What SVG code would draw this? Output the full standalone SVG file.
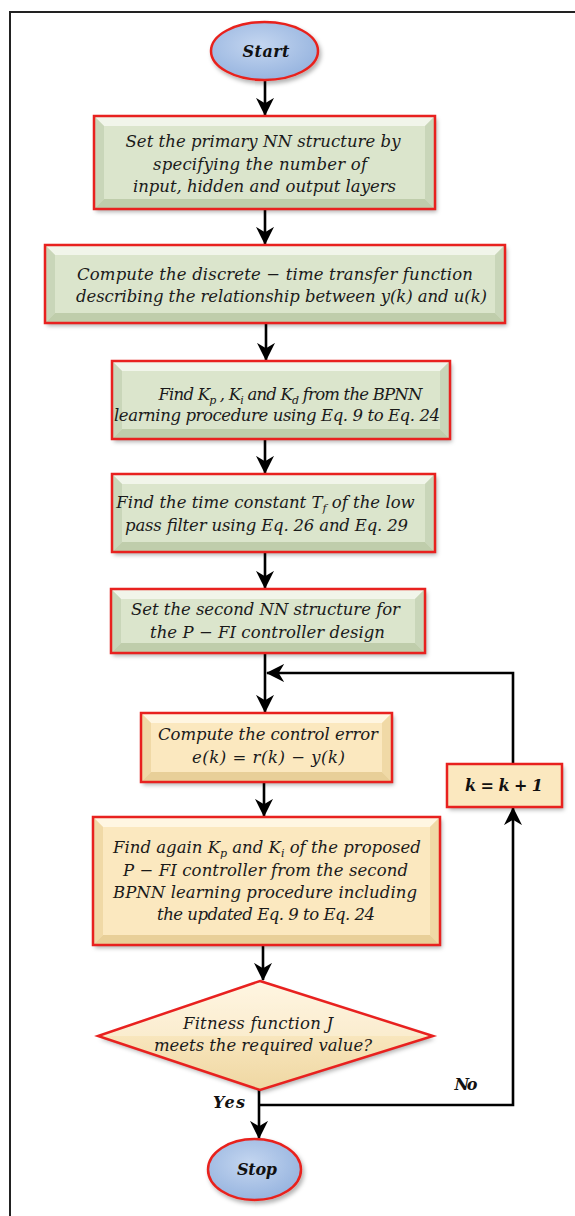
<svg xmlns="http://www.w3.org/2000/svg" width="575" height="1216" viewBox="0 0 575 1216">
  <defs>
    <style>
      .frame { fill: none; stroke: #222; stroke-width: 2; }
      .edge { fill: none; stroke: #000; stroke-width: 2.6; }
      .border { fill: none; stroke: #e8211f; stroke-width: 2.5; }
      .g-face { fill: #dbe5cc; }
      .g-top { fill: #f1f5ea; }
      .g-side { fill: #c9d6b9; }
      .g-bot { fill: #bfcdab; }
      .c-face { fill: #fbe8bf; }
      .c-top { fill: #fff6e2; }
      .c-side { fill: #f0d9a6; }
      .c-bot { fill: #e8cf98; }
      .txt { font-family: "DejaVu Serif", "Liberation Serif", serif; font-style: italic; font-size: 16.5px; fill: #1a1a1a; }
      .btxt { font-family: "DejaVu Serif", "Liberation Serif", serif; font-style: italic; font-weight: bold; font-size: 16px; fill: #111; }
      .sub { font-size: 11px; }
    </style>
    <filter id="shadow" x="-10%" y="-10%" width="125%" height="130%">
      <feDropShadow dx="2" dy="3" stdDeviation="2" flood-color="#000" flood-opacity="0.3"/>
    </filter>
    <radialGradient id="oval" cx="45%" cy="40%" r="65%">
      <stop offset="0" stop-color="#c4d6f0"/>
      <stop offset="1" stop-color="#94b2de"/>
    </radialGradient>
    <linearGradient id="dia" x1="0" y1="0" x2="0" y2="1">
      <stop offset="0" stop-color="#fff4da"/>
      <stop offset="0.5" stop-color="#f8e6bd"/>
      <stop offset="1" stop-color="#efd7a2"/>
    </linearGradient>
    <marker id="arrow" viewBox="0 0 20 20" refX="19" refY="10" markerWidth="18" markerHeight="20" markerUnits="userSpaceOnUse" orient="auto">
      <path d="M0,0 L20,10 L0,20 L6,10 z" fill="#000"/>
    </marker>
  </defs>

  <rect width="575" height="1216" fill="#fff"/>
  <path class="frame" d="M10,1216 V12 H575"/>

  <!-- connectors -->
  <g id="connectors">
    <path class="edge" d="M265,80 V115" marker-end="url(#arrow)"/>
    <path class="edge" d="M265,209 V244" marker-end="url(#arrow)"/>
    <path class="edge" d="M266,323 V360" marker-end="url(#arrow)"/>
    <path class="edge" d="M265,439 V473" marker-end="url(#arrow)"/>
    <path class="edge" d="M265,552 V588" marker-end="url(#arrow)"/>
    <path class="edge" d="M265,653 V712" marker-end="url(#arrow)"/>
    <path class="edge" d="M513,764 V673 H267" marker-end="url(#arrow)"/>
    <path class="edge" d="M264,782 V816" marker-end="url(#arrow)"/>
    <path class="edge" d="M263,945 V980" marker-end="url(#arrow)"/>
    <path class="edge" d="M259,1090 V1138" marker-end="url(#arrow)"/>
    <path class="edge" d="M259,1105 H513 V808" marker-end="url(#arrow)"/>
    <text class="btxt" x="229" y="1108" text-anchor="middle" textLength="32">Yes</text>
    <text class="btxt" x="466" y="1090" text-anchor="middle" textLength="23">No</text>
  </g>

  <!-- start -->
  <g id="start">
    <ellipse cx="264.5" cy="51" rx="53.5" ry="29" fill="url(#oval)" stroke="#e8211f" stroke-width="2.5" filter="url(#shadow)"/>
    <text class="btxt" x="266" y="57" text-anchor="middle" textLength="47" font-size="17">Start</text>
  </g>

  <!-- step 1 -->
  <g id="n1">
    <rect x="94" y="116" width="341" height="93" class="g-face" filter="url(#shadow)"/>
    <polygon class="g-top" points="94,116 435,116 425,126 104,126"/>
    <polygon class="g-side" points="94,116 104,126 104,199 94,209"/>
    <polygon class="g-side" points="435,116 425,126 425,199 435,209"/>
    <polygon class="g-bot" points="94,209 104,199 425,199 435,209"/>
    <rect x="94" y="116" width="341" height="93" class="border"/>
    <text class="txt" x="263" y="147" text-anchor="middle" textLength="275">Set the primary NN structure by</text>
    <text class="txt" x="260" y="170" text-anchor="middle" textLength="214">specifying the number of</text>
    <text class="txt" x="264.5" y="192" text-anchor="middle" textLength="263">input, hidden and output layers</text>
  </g>

  <!-- step 2 -->
  <g id="n2">
    <rect x="45" y="245" width="460" height="78" class="g-face" filter="url(#shadow)"/>
    <polygon class="g-top" points="45,245 505,245 495,255 55,255"/>
    <polygon class="g-side" points="45,245 55,255 55,313 45,323"/>
    <polygon class="g-side" points="505,245 495,255 495,313 505,323"/>
    <polygon class="g-bot" points="45,323 55,313 495,313 505,323"/>
    <rect x="45" y="245" width="460" height="78" class="border"/>
    <text class="txt" x="275" y="280" text-anchor="middle" textLength="396">Compute the discrete − time transfer function</text>
    <text class="txt" x="281.5" y="302" text-anchor="middle" textLength="411">describing the relationship between y(k) and u(k)</text>
  </g>

  <!-- step 3 -->
  <g id="n3">
    <rect x="112" y="361" width="338" height="78" class="g-face" filter="url(#shadow)"/>
    <polygon class="g-top" points="112,361 450,361 440,371 122,371"/>
    <polygon class="g-side" points="112,361 122,371 122,429 112,439"/>
    <polygon class="g-side" points="450,361 440,371 440,429 450,439"/>
    <polygon class="g-bot" points="112,439 122,429 440,429 450,439"/>
    <rect x="112" y="361" width="338" height="78" class="border"/>
    <text class="txt" x="290" y="400" text-anchor="middle" letter-spacing="-0.8">Find K<tspan class="sub" dy="4">p</tspan><tspan dy="-4"> , K</tspan><tspan class="sub" dy="4">i</tspan><tspan dy="-4"> and K</tspan><tspan class="sub" dy="4">d</tspan><tspan dy="-4"> from the BPNN</tspan></text>
    <text class="txt" x="277" y="421" text-anchor="middle" textLength="326">learning procedure using Eq. 9 to Eq. 24</text>
  </g>

  <!-- step 4 -->
  <g id="n4">
    <rect x="112" y="474" width="323" height="78" class="g-face" filter="url(#shadow)"/>
    <polygon class="g-top" points="112,474 435,474 425,484 122,484"/>
    <polygon class="g-side" points="112,474 122,484 122,542 112,552"/>
    <polygon class="g-side" points="435,474 425,484 425,542 435,552"/>
    <polygon class="g-bot" points="112,552 122,542 425,542 435,552"/>
    <rect x="112" y="474" width="323" height="78" class="border"/>
    <text class="txt" x="265.5" y="508" text-anchor="middle">Find the time constant T<tspan class="sub" dy="4">f</tspan><tspan dy="-4"> of the low</tspan></text>
    <text class="txt" x="266.5" y="531" text-anchor="middle" textLength="283">pass filter using Eq. 26 and Eq. 29</text>
  </g>

  <!-- step 5 -->
  <g id="n5">
    <rect x="111" y="589" width="314" height="64" class="g-face" filter="url(#shadow)"/>
    <polygon class="g-top" points="111,589 425,589 415,599 121,599"/>
    <polygon class="g-side" points="111,589 121,599 121,643 111,653"/>
    <polygon class="g-side" points="425,589 415,599 415,643 425,653"/>
    <polygon class="g-bot" points="111,653 121,643 415,643 425,653"/>
    <rect x="111" y="589" width="314" height="64" class="border"/>
    <text class="txt" x="265.5" y="615" text-anchor="middle" textLength="269">Set the second NN structure for</text>
    <text class="txt" x="267.5" y="638" text-anchor="middle" textLength="235">the P − FI controller design</text>
  </g>

  <!-- step 6 -->
  <g id="n6">
    <rect x="141" y="713" width="251" height="69" class="c-face" filter="url(#shadow)"/>
    <polygon class="c-top" points="141,713 392,713 382,723 151,723"/>
    <polygon class="c-side" points="141,713 151,723 151,772 141,782"/>
    <polygon class="c-side" points="392,713 382,723 382,772 392,782"/>
    <polygon class="c-bot" points="141,782 151,772 382,772 392,782"/>
    <rect x="141" y="713" width="251" height="69" class="border"/>
    <text class="txt" x="268" y="740" text-anchor="middle" textLength="220">Compute the control error</text>
    <text class="txt" x="268.5" y="763" text-anchor="middle" textLength="153">e(k) = r(k) − y(k)</text>
  </g>

  <!-- counter update -->
  <g id="n7">
    <rect x="447" y="764" width="115" height="43" class="c-face" filter="url(#shadow)"/>
    <rect x="447" y="764" width="115" height="43" class="border"/>
    <text class="btxt" x="504" y="791" text-anchor="middle" textLength="78" font-size="17">k = k + 1</text>
  </g>

  <!-- step 7 -->
  <g id="n8">
    <rect x="93" y="817" width="347" height="128" class="c-face" filter="url(#shadow)"/>
    <polygon class="c-top" points="93,817 440,817 430,827 103,827"/>
    <polygon class="c-side" points="93,817 103,827 103,935 93,945"/>
    <polygon class="c-side" points="440,817 430,827 430,935 440,945"/>
    <polygon class="c-bot" points="93,945 103,935 430,935 440,945"/>
    <rect x="93" y="817" width="347" height="128" class="border"/>
    <text class="txt" x="267" y="853" text-anchor="middle">Find again K<tspan class="sub" dy="4">p</tspan><tspan dy="-4"> and K</tspan><tspan class="sub" dy="4">i</tspan><tspan dy="-4"> of the proposed</tspan></text>
    <text class="txt" x="265.5" y="876" text-anchor="middle" textLength="285">P − FI controller from the second</text>
    <text class="txt" x="265" y="898" text-anchor="middle" textLength="304">BPNN learning procedure including</text>
    <text class="txt" x="266" y="920" text-anchor="middle" textLength="218">the updated Eq. 9 to Eq. 24</text>
  </g>

  <!-- decision -->
  <g id="n9">
    <polygon points="260,981 433,1036 260,1090 98,1036" fill="url(#dia)" filter="url(#shadow)"/>
    <polygon points="260,981 433,1036 260,1036 98,1036" fill="#fffaf0" opacity="0.35"/>
    <polygon points="260,981 433,1036 260,1090 98,1036" class="border"/>
    <text class="txt" x="258" y="1029" text-anchor="middle" textLength="150">Fitness function J</text>
    <text class="txt" x="263" y="1051" text-anchor="middle" textLength="218">meets the required value?</text>
  </g>

  <!-- stop -->
  <g id="stop">
    <ellipse cx="254.5" cy="1169.5" rx="46.5" ry="30.5" fill="url(#oval)" stroke="#e8211f" stroke-width="2.5" filter="url(#shadow)"/>
    <text class="btxt" x="257" y="1175" text-anchor="middle" textLength="40" font-size="17">Stop</text>
  </g>
</svg>
